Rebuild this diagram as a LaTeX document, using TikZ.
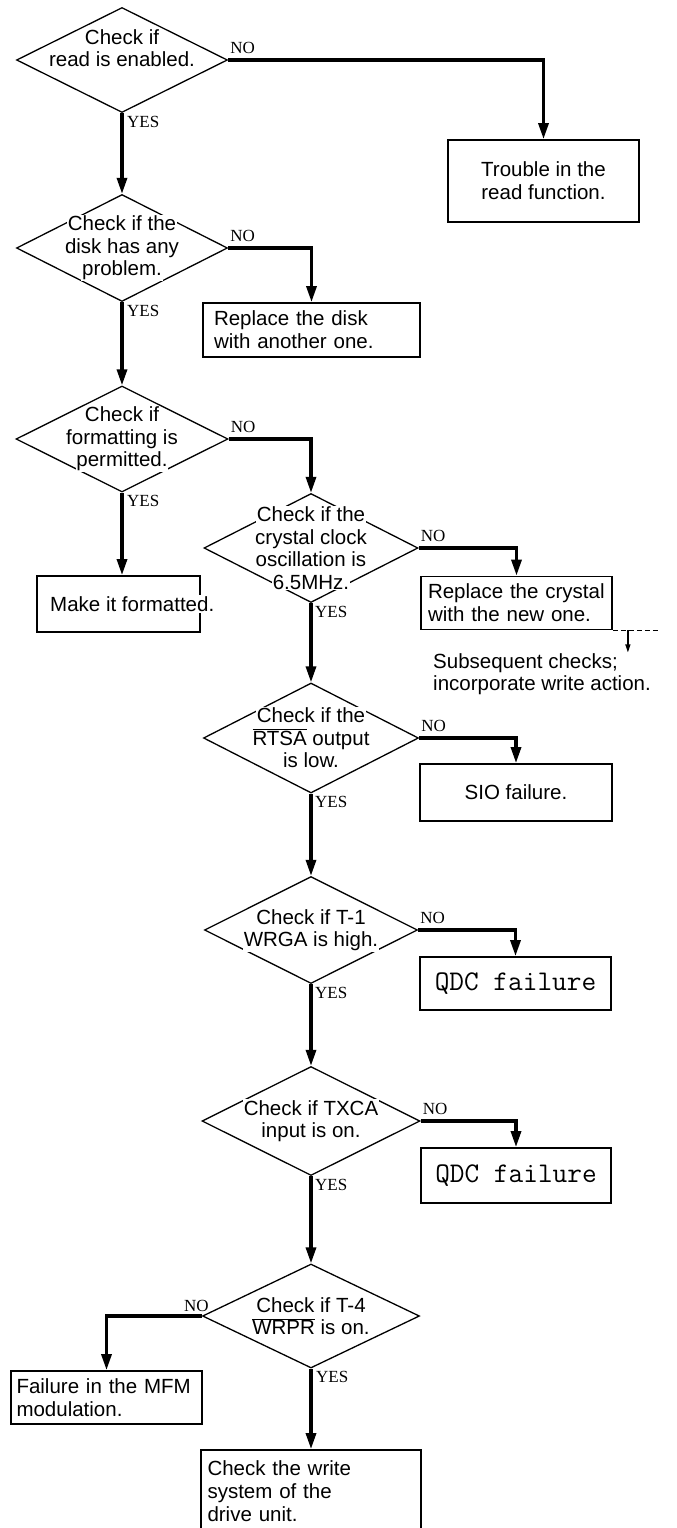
\documentclass[tikz,border=0pt]{standalone}
\usepackage{fontspec}
\setmainfont{Liberation Sans}
\newfontfamily\answerfont{Liberation Serif}
\usetikzlibrary{arrows.meta,shapes.geometric}
\setlength{\fboxsep}{0.8pt}
\newcommand{\negsig}[1]{$\overline{\mbox{#1}}$}
\newcommand{\wline}[1]{\colorbox{white}{#1}}
\tikzset{
  decision/.style={draw, shape=diamond, inner sep=0pt, line width=1.3pt},
  dtext/.style={align=center, inner sep=0pt, font=\fontsize{20.5}{22.5}\selectfont},
  result/.style={draw, line width=1.8pt},
  rtext/.style={align=left, font=\fontsize{20.5}{23}\selectfont},
  qdc/.style={font=\ttfamily\fontsize{28.5}{30}\selectfont},
  answer/.style={inner sep=0pt, font=\answerfont\fontsize{17}{19}\selectfont},
  flow/.style={line width=3.2pt, -{Triangle[length=16pt,width=10pt]}},
}

\begin{document}
\begin{tikzpicture}[x=1pt, y=-1pt]
        \useasboundingbox (0,0) rectangle (677,1528);
        \node[decision, minimum width=211pt, minimum height=105pt] (d1) at (122,60) {};
        \node[decision, minimum width=211pt, minimum height=107pt] (d2) at (122,248) {};
        \node[decision, minimum width=212pt, minimum height=106pt] (d3) at (122,439) {};
        \node[decision, minimum width=214pt, minimum height=109pt] (d4) at (311,548) {};
        \node[decision, minimum width=215pt, minimum height=110pt] (d5) at (311,738) {};
        \node[decision, minimum width=213pt, minimum height=107pt] (d6) at (311,930) {};
        \node[decision, minimum width=218pt, minimum height=109pt] (d7) at (311,1121) {};
        \node[decision, minimum width=217pt, minimum height=104pt] (d8) at (311,1316) {};
        \node[dtext] (d1t) at (122,48) {\wline{Check if}\\\wline{read is enabled.}};
        \node[dtext] (d2t) at (d2) {\wline{Check if the}\\\wline{disk has any}\\\wline{problem.}};
        \node[dtext] (d3t) at (d3) {\wline{Check if}\\\wline{formatting is}\\\wline{permitted.}};
        \node[dtext] (d4t) at (d4) {\wline{Check if the}\\\wline{crystal clock}\\\wline{oscillation is}\\\wline{6.5MHz.}};
        \node[dtext] (d5t) at (d5) {\wline{Check if the}\\\wline{\negsig{RTSA} output}\\\wline{is low.}};
        \node[dtext] (d6t) at (d6) {\wline{Check if T-1}\\\wline{WRGA is high.}};
        \node[dtext] (d7t) at (d7) {\wline{Check if TXCA}\\\wline{input is on.}};
        \node[dtext] (d8t) at (d8) {\wline{Check if T-4}\\\wline{\negsig{WRPR} is on.}};

        \node[result, rtext, align=center, minimum width=191pt, minimum height=82pt] (t1) at (543.5,181) {Trouble in the\\read function.};
        \node[result, rtext, text width=195pt, inner xsep=11pt, minimum height=54pt] (r2) at (311.5,330) {Replace the disk\\with another one.};
        \node[result, minimum width=163pt, minimum height=56pt] (m3) at (118.5,604) {};
        \node[rtext, fill=white, inner sep=1pt, anchor=west] (m3t) at (49,604) {Make it formatted.};
        \node[result, rtext, text width=177pt, inner xsep=7pt, minimum height=53pt] (r4) at (516.5,603) {Replace the crystal\\with the new one.};
        \node[result, rtext, align=center, minimum width=192pt, minimum height=57pt] (s5) at (516,792.5) {SIO failure.};
        \node[result, qdc, minimum width=191pt, minimum height=53pt] (q6) at (515.5,983.5) {QDC failure};
        \node[result, qdc, minimum width=190pt, minimum height=55pt] (q7) at (516,1175.5) {QDC failure};
        \node[result, rtext, text width=180pt, inner xsep=5.5pt, minimum height=53pt] (f8) at (106.5,1397.5) {Failure in the MFM\\modulation.};
        \node[result, rtext, text width=207pt, inner xsep=6.5pt, minimum height=82pt] (c8) at (311,1491) {Check the write\\system of the\\drive unit.};

        \node[answer, anchor=south west] (n1) at ([xshift=2pt,yshift=6.5pt]d1.east) {NO};
        \node[answer, anchor=north west] (y1) at ([xshift=5pt,yshift=-2.5pt]d1.south) {YES};
        \node[answer, anchor=south west] (n2) at ([xshift=2pt,yshift=6.5pt]d2.east) {NO};
        \node[answer, anchor=north west] (y2) at ([xshift=5pt,yshift=-2.5pt]d2.south) {YES};
        \node[answer, anchor=south west] (n3) at ([xshift=2pt,yshift=6.5pt]d3.east) {NO};
        \node[answer, anchor=north west] (y3) at ([xshift=5pt,yshift=-2.5pt]d3.south) {YES};
        \node[answer, anchor=south west] (n4) at ([xshift=2pt,yshift=6.5pt]d4.east) {NO};
        \node[answer, anchor=north west] (y4) at ([xshift=4pt,yshift=-2.5pt]d4.south) {YES};
        \node[answer, anchor=south west] (n5) at ([xshift=2pt,yshift=6.5pt]d5.east) {NO};
        \node[answer, anchor=north west] (y5) at ([xshift=4pt,yshift=-2.5pt]d5.south) {YES};
        \node[answer, anchor=south west] (n6) at ([xshift=2pt,yshift=6.5pt]d6.east) {NO};
        \node[answer, anchor=north west] (y6) at ([xshift=4pt,yshift=-2.5pt]d6.south) {YES};
        \node[answer, anchor=south west] (n7) at ([xshift=2pt,yshift=6.5pt]d7.east) {NO};
        \node[answer, anchor=north west] (y7) at ([xshift=4pt,yshift=-2.5pt]d7.south) {YES};
        \node[answer, anchor=south east] (n8) at ([xshift=7pt,yshift=4.5pt]d8.west) {NO};
        \node[answer, anchor=north west] (y8) at ([xshift=5pt,yshift=-2.5pt]d8.south) {YES};

        \draw[flow] (d1.east) -| (t1.north);
        \draw[flow] (d1.south) -- (d2.north);
        \draw[flow] (d2.east) -| (r2.north);
        \draw[flow] (d2.south) -- (d3.north);
        \draw[flow] (d3.east) -| (d4.north);
        \draw[flow] (d3.south) -- (d3.south |- m3.north);
        \draw[flow] (d4.east) -| (r4.north);
        \draw[flow] (d4.south) -- (d5.north);
        \draw[flow] (d5.east) -| (s5.north);
        \draw[flow] (d5.south) -- (d6.north);
        \draw[flow] (d6.east) -| (q6.north);
        \draw[flow] (d6.south) -- (d7.north);
        \draw[flow] (d7.east) -| (q7.north);
        \draw[flow] (d7.south) -- (d8.north);
        \draw[flow] (d8.west) -| (f8.north);
        \draw[flow] (d8.south) -- (c8.north);

        \coordinate (dend) at ([xshift=46pt]r4.south east);
        \coordinate (wtop) at ([xshift=15pt]r4.south east);
        \coordinate (wbot) at ([xshift=15pt,yshift=-22pt]r4.south east);
        \draw[line width=1.3pt, dashed, dash pattern=on 5pt off 3pt] (r4.south east) -- (dend);
        \draw[line width=1.3pt, -{Triangle[length=8pt,width=5pt]}] (wtop) -- (wbot);
        \node[rtext, anchor=west, inner sep=0pt, font=\fontsize{20.5}{22}\selectfont] (sub) at (433,674) {Subsequent checks;\\incorporate write action.};
    \end{tikzpicture}
\end{document}
